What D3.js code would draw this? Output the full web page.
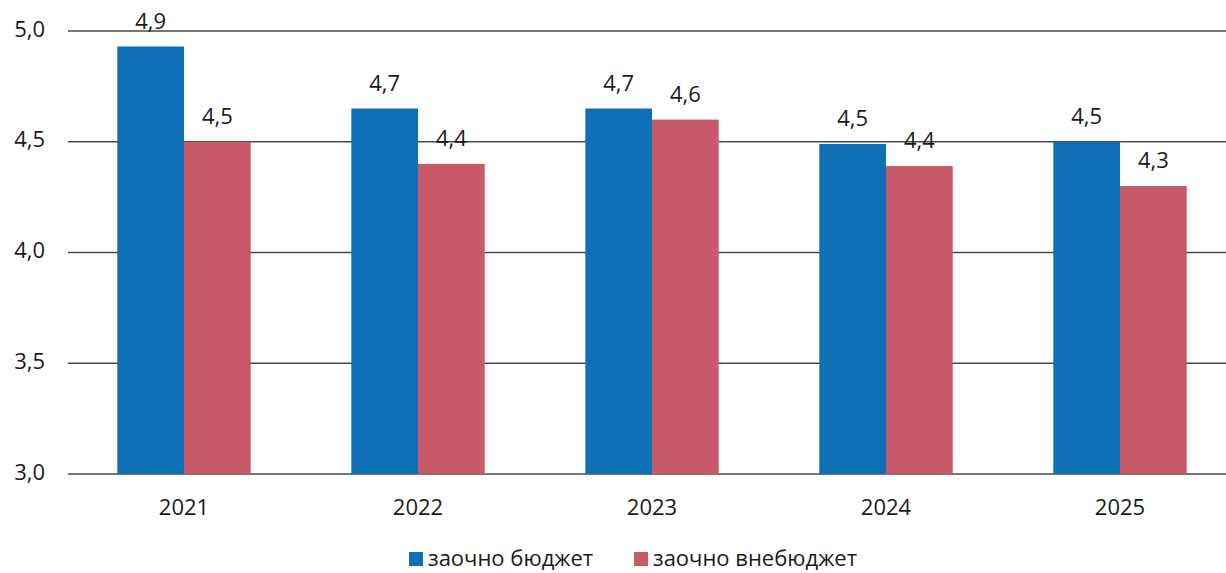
<!DOCTYPE html>
<html>
<head>
<meta charset="utf-8">
<script src="https://cdn.jsdelivr.net/npm/d3@7"></script>
<style>
  html, body { margin: 0; padding: 0; background: #fff; }
  svg { display: block; font-family: "Open Sans", "Noto Sans", sans-serif; }
</style>
</head>
<body>
<svg id="chart" width="1226" height="573"></svg>
<script>
  // Years and series values (bar heights)
  var YEARS = ["2021", "2022", "2023", "2024", "2025"];
  var SERIES = ["заочно бюджет", "заочно внебюджет"];
  var BUDGET = [4.93, 4.65, 4.65, 4.49, 4.50];
  var OFFBUDGET = [4.50, 4.40, 4.60, 4.39, 4.30];
  // Data labels as printed above bars
  var BUDGET_LABELS = ["4,9", "4,7", "4,7", "4,5", "4,5"];
  var OFFBUDGET_LABELS = ["4,5", "4,4", "4,6", "4,4", "4,3"];
  var Y_TICKS = [3.0, 3.5, 4.0, 4.5, 5.0];

  var C = { blue: "#0e6fb6", red: "#c65a69", grid: "#4a4a4a", text: "#1a1a1a" };
  var COLORS = [C.blue, C.red];

  var svg = d3.select("#chart");
  var m = { left: 68, right: 1226, top: 31, bottom: 474 };

  var y = d3.scaleLinear().domain([3, 5]).range([m.bottom, m.top]);
  var x0 = d3.scaleBand().domain(YEARS).range([67, 1237])
    .paddingInner(0.43).paddingOuter(0.215);
  var x1 = d3.scaleBand().domain([0, 1]).range([0, x0.bandwidth()]);

  // gridlines
  svg.append("g").selectAll("line").data(Y_TICKS).join("line")
    .attr("x1", m.left).attr("x2", m.right)
    .attr("y1", function (d) { return y(d); }).attr("y2", function (d) { return y(d); })
    .attr("stroke", C.grid).attr("stroke-width", 1.3);

  // y tick labels
  var fmt = function (d) { return d3.format(".1f")(d).replace(".", ","); };
  svg.append("g").selectAll("text").data(Y_TICKS).join("text")
    .attr("x", 45).attr("y", function (d) { return y(d); })
    .attr("dy", "0.25em").attr("text-anchor", "end")
    .attr("font-size", 22).attr("fill", C.text)
    .text(fmt);

  var rows = YEARS.map(function (yr, i) {
    return { year: yr, vals: [BUDGET[i], OFFBUDGET[i]], labels: [BUDGET_LABELS[i], OFFBUDGET_LABELS[i]] };
  });

  var groups = svg.append("g").selectAll("g").data(rows).join("g")
    .attr("transform", function (d) { return "translate(" + x0(d.year) + ",0)"; });

  groups.selectAll("rect").data(function (d) { return d.vals.map(function (v, k) { return { k: k, v: v }; }); })
    .join("rect")
    .attr("x", function (d) { return x1(d.k); })
    .attr("width", x1.bandwidth())
    .attr("y", function (d) { return y(d.v); })
    .attr("height", function (d) { return y(3) - y(d.v); })
    .attr("fill", function (d) { return COLORS[d.k]; });

  groups.selectAll("text.val").data(function (d) {
      return d.vals.map(function (v, k) { return { k: k, v: v, t: d.labels[k] }; });
    })
    .join("text").attr("class", "val")
    .attr("x", function (d) { return x1(d.k) + x1.bandwidth() / 2; })
    .attr("y", function (d) { return y(d.v) - 18; })
    .attr("text-anchor", "middle").attr("font-size", 22).attr("fill", C.text)
    .text(function (d) { return d.t; });

  // x labels
  svg.append("g").selectAll("text").data(YEARS).join("text")
    .attr("x", function (d) { return x0(d) + x0.bandwidth() / 2; })
    .attr("y", 515).attr("text-anchor", "middle")
    .attr("font-size", 22).attr("fill", C.text)
    .text(function (d) { return d; });

  // legend
  var legend = svg.append("g");
  var lx = [409, 634];
  SERIES.forEach(function (s, k) {
    legend.append("rect").attr("x", lx[k]).attr("y", 552).attr("width", 14).attr("height", 14).attr("fill", COLORS[k]);
    legend.append("text").attr("x", lx[k] + 19).attr("y", 566)
      .attr("font-size", 22).attr("fill", C.text).text(s);
  });
</script>
</body>
</html>
